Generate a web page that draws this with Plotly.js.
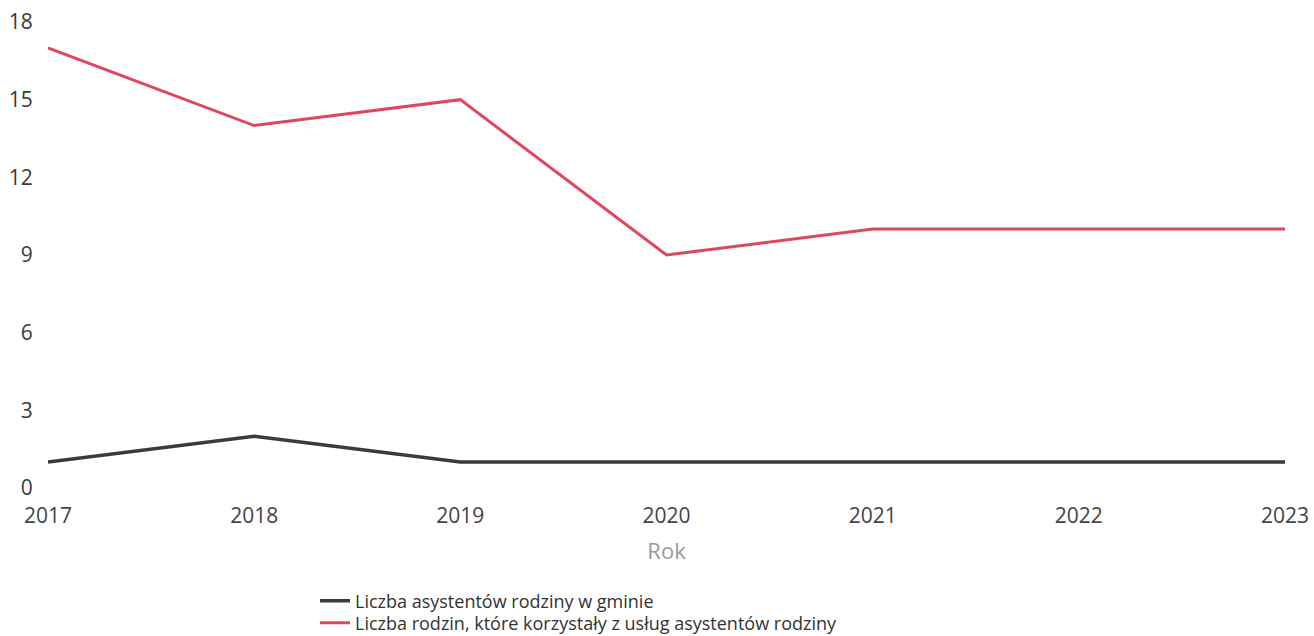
<!DOCTYPE html>
<html>
<head>
<meta charset="utf-8">
<script src="https://cdn.plot.ly/plotly-3.0.1.min.js"></script>
<style>html,body{margin:0;padding:0;background:#fff;}#chart{width:1314px;height:636px;}</style>
</head>
<body>
<div id="chart"></div>
<script>
const years = [2017, 2018, 2019, 2020, 2021, 2022, 2023];
const asystenci = [1, 2, 1, 1, 1, 1, 1];
const rodziny = [17, 14, 15, 9, 10, 10, 10];
const seriesNames = ["Liczba asystentów rodziny w gminie", "Liczba rodzin, które korzystały z usług asystentów rodziny"];
const yTicks = [0, 3, 6, 9, 12, 15, 18];

const traces = [
  {x: years, y: asystenci, name: seriesNames[0], type: 'scatter', mode: 'lines',
   line: {color: '#3b3b3d', width: 3.5}, legend: 'legend'},
  {x: years, y: rodziny, name: seriesNames[1], type: 'scatter', mode: 'lines',
   line: {color: '#e0465f', width: 3}, legend: 'legend2'}
];

const legendCommon = {
  orientation: 'v', xref: 'container', yref: 'container',
  x: 315 / 1314, xanchor: 'left', yanchor: 'middle',
  font: {size: 18, color: '#333'}, itemwidth: 30,
  bgcolor: 'rgba(0,0,0,0)', borderwidth: 0
};

const layout = {
  width: 1314, height: 636,
  margin: {l: 48, r: 29, t: 22, b: 148, autoexpand: false},
  paper_bgcolor: '#fff', plot_bgcolor: '#fff',
  font: {family: 'Open Sans, sans-serif', color: '#444', size: 21},
  showlegend: true,
  xaxis: {
    range: [2017, 2023], tickvals: years, ticktext: years.map(String),
    showgrid: false, zeroline: false, showline: false,
    ticks: 'outside', ticklen: 9, tickcolor: 'rgba(0,0,0,0)',
    tickfont: {size: 21, color: '#444'},
    title: {text: 'Rok', font: {size: 22, color: '#9a9a9a'}, standoff: 15}
  },
  yaxis: {
    range: [0, 18], tickvals: yTicks,
    showgrid: false, zeroline: false, showline: false,
    ticks: 'outside', ticklen: 10, tickcolor: 'rgba(0,0,0,0)',
    tickfont: {size: 21, color: '#3a3a3a'}
  },
  legend: Object.assign({}, legendCommon, {y: 1 - 601 / 636}),
  legend2: Object.assign({}, legendCommon, {y: 1 - 623 / 636})
};

Plotly.newPlot('chart', traces, layout, {displayModeBar: false, staticPlot: true});
</script>
</body>
</html>
